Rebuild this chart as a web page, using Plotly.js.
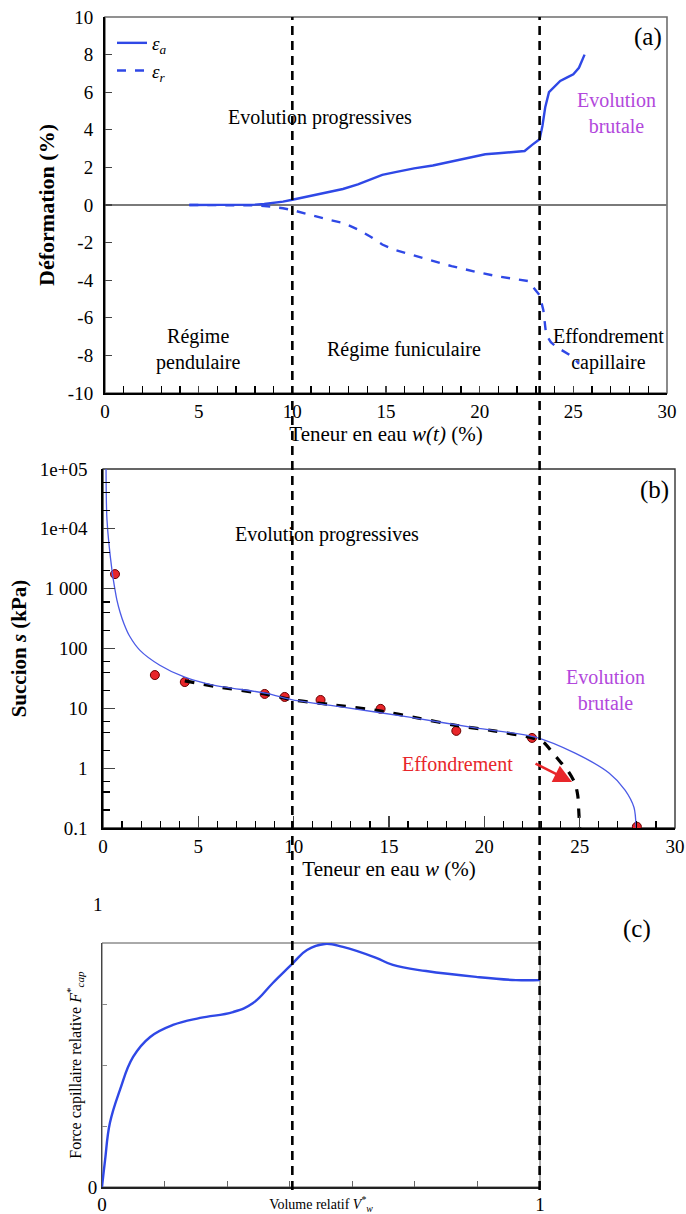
<!DOCTYPE html>
<html>
<head>
<meta charset="utf-8">
<script src="https://cdn.plot.ly/plotly-3.0.1.min.js"></script>
<style>html,body{margin:0;padding:0;background:#fff;}#chart{width:686px;height:1214px;}</style>
</head>
<body>
<div id="chart"></div>
<script>
// ---------- Panel (a): déformations vs teneur en eau ----------
const wAxial = [4.5, 6, 7, 8, 8.5, 9, 9.5, 10, 10.5, 11, 11.5, 12, 12.7, 13.5, 14.2, 14.8, 15.5, 16.5, 17.5, 18, 19, 20.3, 21, 22.4, 22.8, 23.2, 23.35, 23.5, 23.7, 24, 24.3, 24.7, 25.0, 25.3, 25.6];
const epsAxial = [0, 0, 0, 0.02, 0.05, 0.1, 0.18, 0.28, 0.38, 0.5, 0.6, 0.68, 0.85, 1.1, 1.35, 1.6, 1.75, 1.95, 2.1, 2.2, 2.4, 2.7, 2.75, 2.87, 3.2, 3.5, 4.2, 5.2, 6.0, 6.3, 6.6, 6.8, 6.95, 7.3, 8.0];
const wRadial = [4.5, 6, 7, 8, 8.5, 9, 9.5, 10, 10.5, 11, 11.5, 12, 12.7, 13.5, 14.2, 14.8, 15.5, 16.5, 17.35, 18.5, 19.8, 21, 22.3, 22.6, 23.2, 23.4, 23.55, 23.8, 24.1, 24.5, 25.0, 25.3];
const epsRadial = [0, 0, 0, -0.02, -0.05, -0.1, -0.17, -0.27, -0.4, -0.55, -0.7, -0.8, -0.95, -1.3, -1.7, -2.1, -2.4, -2.7, -2.93, -3.25, -3.56, -3.8, -3.99, -4.05, -4.8, -5.6, -6.9, -7.3, -7.55, -7.8, -8.1, -8.45];
const defTickVals = [-10, -8, -6, -4, -2, 0, 2, 4, 6, 8, 10];
const defTickText = ['-10', '-8', '-6', '-4', '-2', '0', '2', '4', '6', '8', '10'];

// ---------- Panel (b): succion vs teneur en eau ----------
const wModel = [0.16, 0.21, 0.47, 0.63, 0.73, 0.9, 1.1, 1.4, 1.94, 2.98, 4.29, 5.76, 8.59, 9.95, 12.57, 16.07, 19.53, 22.67, 24.76, 26.54, 27.38, 27.85, 27.96];
const sModel = [100000, 14000, 2040, 955, 646, 400, 260, 160, 93, 52.5, 33.1, 24.5, 17.8, 13.8, 10.5, 7.1, 4.7, 3.3, 1.78, 0.83, 0.43, 0.22, 0.102];
const wExp = [0.63, 2.72, 4.29, 8.48, 9.53, 11.41, 14.56, 18.53, 22.5, 28.0];
const sExp = [1750, 36, 27.5, 17.4, 15.5, 13.8, 9.8, 4.2, 3.2, 0.105];
const wCollapse = [4.29, 6, 8.48, 10, 12, 14.5, 16.5, 18.5, 20.5, 22.5, 23.1, 23.6, 24.0, 24.4, 24.75, 24.9, 24.95, 25.0];
const sCollapse = [28.8, 22.9, 17.4, 13.8, 11.5, 9.1, 6.9, 5.2, 4.2, 3.2, 2.7, 1.78, 1.26, 0.89, 0.56, 0.35, 0.2, 0.1];
const suctionTickVals = [0.1, 1, 10, 100, 1000, 10000, 100000];
const suctionTickText = ['0.1', '1', '10', '100', '1 000', '1e+04', '1e+05'];

// ---------- Panel (c): force capillaire relative vs volume relatif ----------
const vRel = [0, 0.007, 0.018, 0.041, 0.071, 0.110, 0.162, 0.224, 0.299, 0.345, 0.390, 0.436, 0.468, 0.509, 0.550, 0.626, 0.664, 0.740, 0.854, 0.945, 1.0];
const fCap = [0, 0.11, 0.262, 0.398, 0.533, 0.615, 0.664, 0.693, 0.717, 0.754, 0.836, 0.918, 0.971, 0.996, 0.984, 0.939, 0.910, 0.885, 0.861, 0.848, 0.848];
const vTickCount = 7;

// ---------- styling ----------
const SERIF = '"Liberation Serif", "Times New Roman", serif';
const BLUE = '#2f48e6';
const PURPLE = '#b248dc';
const RED = '#e8262a';
const W = 686, H = 1214;
const px = (a, b) => [a / W, b / W];
const py = (top, bottom) => [1 - bottom / H, 1 - top / H];

const traces = [
  {x: wAxial, y: epsAxial, xaxis: 'x', yaxis: 'y', mode: 'lines', name: '<i>ε<sub>a</sub></i>',
   line: {color: BLUE, width: 2.4}},
  {x: wRadial, y: epsRadial, xaxis: 'x', yaxis: 'y', mode: 'lines', name: '<i>ε<sub>r</sub></i>',
   line: {color: BLUE, width: 2.4, dash: 'dash'}},
  {x: wExp, y: sExp, xaxis: 'x2', yaxis: 'y2', mode: 'markers', showlegend: false,
   marker: {color: RED, size: 9, line: {color: '#6a0000', width: 1}}},
  {x: wCollapse, y: sCollapse, xaxis: 'x2', yaxis: 'y2', mode: 'lines', showlegend: false,
   line: {color: '#000', width: 3.2, dash: 'dash', shape: 'spline', smoothing: 0.8}},
  {x: wModel, y: sModel, xaxis: 'x2', yaxis: 'y2', mode: 'lines', showlegend: false,
   line: {color: '#4b5ae6', width: 1.3, shape: 'spline', smoothing: 0.8}},
  {x: vRel, y: fCap, xaxis: 'x3', yaxis: 'y3', mode: 'lines', showlegend: false,
   line: {color: BLUE, width: 2.4, shape: 'spline', smoothing: 1.2}}
];

const minorLog = [];
for (let d = -1; d < 5; d++) { [2, 4, 6].forEach(m => minorLog.push(m * Math.pow(10, d))); }
const vMinor = [];
for (let i = 1; i < vTickCount; i++) { vMinor.push(i / vTickCount); }

const tickFont = {family: SERIF, size: 19, color: '#000'};
const annFont = (c) => ({family: SERIF, size: 20, color: c});
const layout = {
  width: W, height: H,
  margin: {l: 0, r: 0, t: 0, b: 0},
  paper_bgcolor: '#fff', plot_bgcolor: '#fff',
  font: {family: SERIF, color: '#000'},
  showlegend: true,
  legend: {x: 112 / W, y: 1 - 24 / H, xanchor: 'left', yanchor: 'top', bgcolor: 'rgba(0,0,0,0)',
           font: {family: SERIF, size: 19, color: '#000'}, tracegroupgap: 0, itemwidth: 30},
  // Panel (a)
  xaxis: {domain: px(105, 667), range: [0, 30], anchor: 'y', dtick: 5, ticks: 'inside', ticklen: 7, tickwidth: 1.3,
          minor: {dtick: 1, ticks: 'inside', ticklen: 7, tickwidth: 1.3, tickcolor: '#000'},
          showline: true, linecolor: '#000', linewidth: 2, showgrid: false, zeroline: false, tickfont: tickFont,
          title: {text: 'Teneur en eau <i>w(t)</i> (%)', font: {family: SERIF, size: 21}, standoff: 6}},
  yaxis: {domain: py(17, 393), range: [-10, 10], anchor: 'x', tickmode: 'array', tickvals: defTickVals, ticktext: defTickText,
          ticks: 'inside', ticklen: 7, tickwidth: 1.3,
          showline: true, linecolor: '#000', linewidth: 2, showgrid: false, zeroline: true, zerolinecolor: '#7a7a7a',
          zerolinewidth: 1.5, tickfont: tickFont, ticklabelstandoff: 6,
          title: {text: '<b>Déformation (%)</b>', font: {family: SERIF, size: 22}, standoff: 7}},
  // Panel (b)
  xaxis2: {domain: px(103, 675), range: [0, 30], anchor: 'y2', dtick: 5, ticks: 'inside', ticklen: 12, tickwidth: 1.3,
           minor: {dtick: 1, ticks: 'inside', ticklen: 7, tickwidth: 1.2, tickcolor: '#000'},
           showline: true, linecolor: '#000', linewidth: 1.8, showgrid: false, zeroline: false, tickfont: tickFont,
           title: {text: 'Teneur en eau <i>w</i> (%)', font: {family: SERIF, size: 21}, standoff: 2}},
  yaxis2: {domain: py(469, 828), type: 'log', range: [-1, 5], anchor: 'x2', tickmode: 'array',
           tickvals: suctionTickVals, ticktext: suctionTickText, ticks: 'inside', ticklen: 12, tickwidth: 1.3,
           minor: {tickmode: 'array', tickvals: minorLog, ticks: 'inside', ticklen: 7, tickwidth: 1.2, tickcolor: '#000'},
           showline: true, linecolor: '#000', linewidth: 1.8, showgrid: false, zeroline: false,
           tickfont: {family: SERIF, size: 19, color: '#000'}, ticklabelstandoff: 10,
           title: {text: '<b>Succion <i>s</i> (kPa)</b>', font: {family: SERIF, size: 21}, standoff: 7}},
  // Panel (c)
  xaxis3: {domain: px(102, 540), range: [0, 1], anchor: 'y3', tickmode: 'array', tickvals: [0, 1], ticktext: ['0', '1'],
           ticks: 'inside', ticklen: 6, tickcolor: '#666', tickwidth: 1,
           minor: {tickmode: 'array', tickvals: vMinor, ticks: 'inside', ticklen: 6, tickcolor: '#666', tickwidth: 1},
           showline: true, linecolor: '#222', linewidth: 1.5, showgrid: false, zeroline: false,
           tickfont: {family: SERIF, size: 19, color: '#000'},
           title: {text: 'Volume relatif <i>V</i><sup>*</sup><sub><i>w</i></sub>', font: {family: SERIF, size: 14}, standoff: 0}},
  yaxis3: {domain: py(943, 1187), range: [0, 1], anchor: 'x3', tickmode: 'array', tickvals: [0], ticktext: ['0'],
           ticks: 'inside', ticklen: 5, tickcolor: '#888', tickwidth: 1,
           minor: {tickmode: 'array', tickvals: [0.25, 0.5, 0.75], ticks: 'inside', ticklen: 5, tickcolor: '#888', tickwidth: 1},
           showline: true, linecolor: '#444', linewidth: 1, showgrid: false, zeroline: false, ticklabelstandoff: 0,
           tickfont: {family: SERIF, size: 19, color: '#000'},
           title: {text: 'Force capillaire relative <i>F</i><sup>*</sup><sub><i>cap</i></sub>', font: {family: SERIF, size: 16}, standoff: 2}},
  shapes: [
    {type: 'rect', xref: 'x domain', yref: 'y domain', x0: 0, x1: 1, y0: 0, y1: 1, layer: 'below', line: {color: '#6e6e6e', width: 1.6}},
    {type: 'rect', xref: 'x2 domain', yref: 'y2 domain', x0: 0, x1: 1, y0: 0, y1: 1, layer: 'below', line: {color: '#333', width: 1.4}},
    {type: 'rect', xref: 'x3 domain', yref: 'y3 domain', x0: 0, x1: 1, y0: 0, y1: 1, layer: 'below', line: {color: '#555', width: 1}},
    {type: 'line', xref: 'x', yref: 'paper', x0: 10, x1: 10, y0: 1 - 1190 / H, y1: 1 - 17 / H, line: {color: '#000', width: 2.6, dash: '9px,6px'}},
    {type: 'line', xref: 'x', yref: 'paper', x0: 23.2, x1: 23.2, y0: 1 - 1190 / H, y1: 1 - 17 / H, line: {color: '#000', width: 2.6, dash: '9px,6px'}}
  ],
  annotations: [
    // panel (a)
    {xref: 'x', yref: 'y', x: 11.48, y: 4.68, text: 'Evolution progressives', showarrow: false, font: annFont('#000')},
    {xref: 'x', yref: 'y', x: 27.3, y: 4.9, text: 'Evolution<br>brutale', showarrow: false, font: annFont(PURPLE)},
    {xref: 'x', yref: 'y', x: 29.0, y: 8.94, text: '(a)', showarrow: false, font: {family: SERIF, size: 25, color: '#000'}},
    {xref: 'x', yref: 'y', x: 4.97, y: -7.66, text: 'Régime<br>pendulaire', showarrow: false, font: annFont('#000')},
    {xref: 'x', yref: 'y', x: 15.96, y: -7.66, text: 'Régime funiculaire', showarrow: false, font: annFont('#000')},
    {xref: 'x', yref: 'y', x: 26.9, y: -7.66, text: 'Effondrement<br>capillaire', showarrow: false, font: annFont('#000')},
    // panel (b) (log axis: y in log10 units)
    {xref: 'x2', yref: 'y2', x: 11.73, y: 3.9, text: 'Evolution progressives', showarrow: false, font: annFont('#000')},
    {xref: 'x2', yref: 'y2', x: 28.95, y: 4.65, text: '(b)', showarrow: false, font: {family: SERIF, size: 25, color: '#000'}},
    {xref: 'x2', yref: 'y2', x: 26.34, y: 1.3, text: 'Evolution<br>brutale', showarrow: false, font: annFont(PURPLE)},
    {xref: 'x2', yref: 'y2', x: 18.59, y: 0.07, text: 'Effondrement', showarrow: false, font: annFont(RED)},
    {xref: 'x2', yref: 'y2', x: 24.6, y: -0.23, text: '', showarrow: true, ax: -38, ay: -19,
     arrowcolor: RED, arrowwidth: 2.6, arrowhead: 2, arrowsize: 1.4},
    // panel (c)
    {xref: 'paper', yref: 'paper', x: 653 / W, y: 1 - 945 / H, text: '(c)', showarrow: false, font: {family: SERIF, size: 25, color: '#000'}},
    {xref: 'paper', yref: 'paper', x: 91 / W, y: 1 - 917 / H, text: '1', showarrow: false, font: {family: SERIF, size: 19, color: '#000'}}
  ]
};

Plotly.newPlot('chart', traces, layout, {displayModeBar: false, staticPlot: true});
</script>
</body>
</html>
